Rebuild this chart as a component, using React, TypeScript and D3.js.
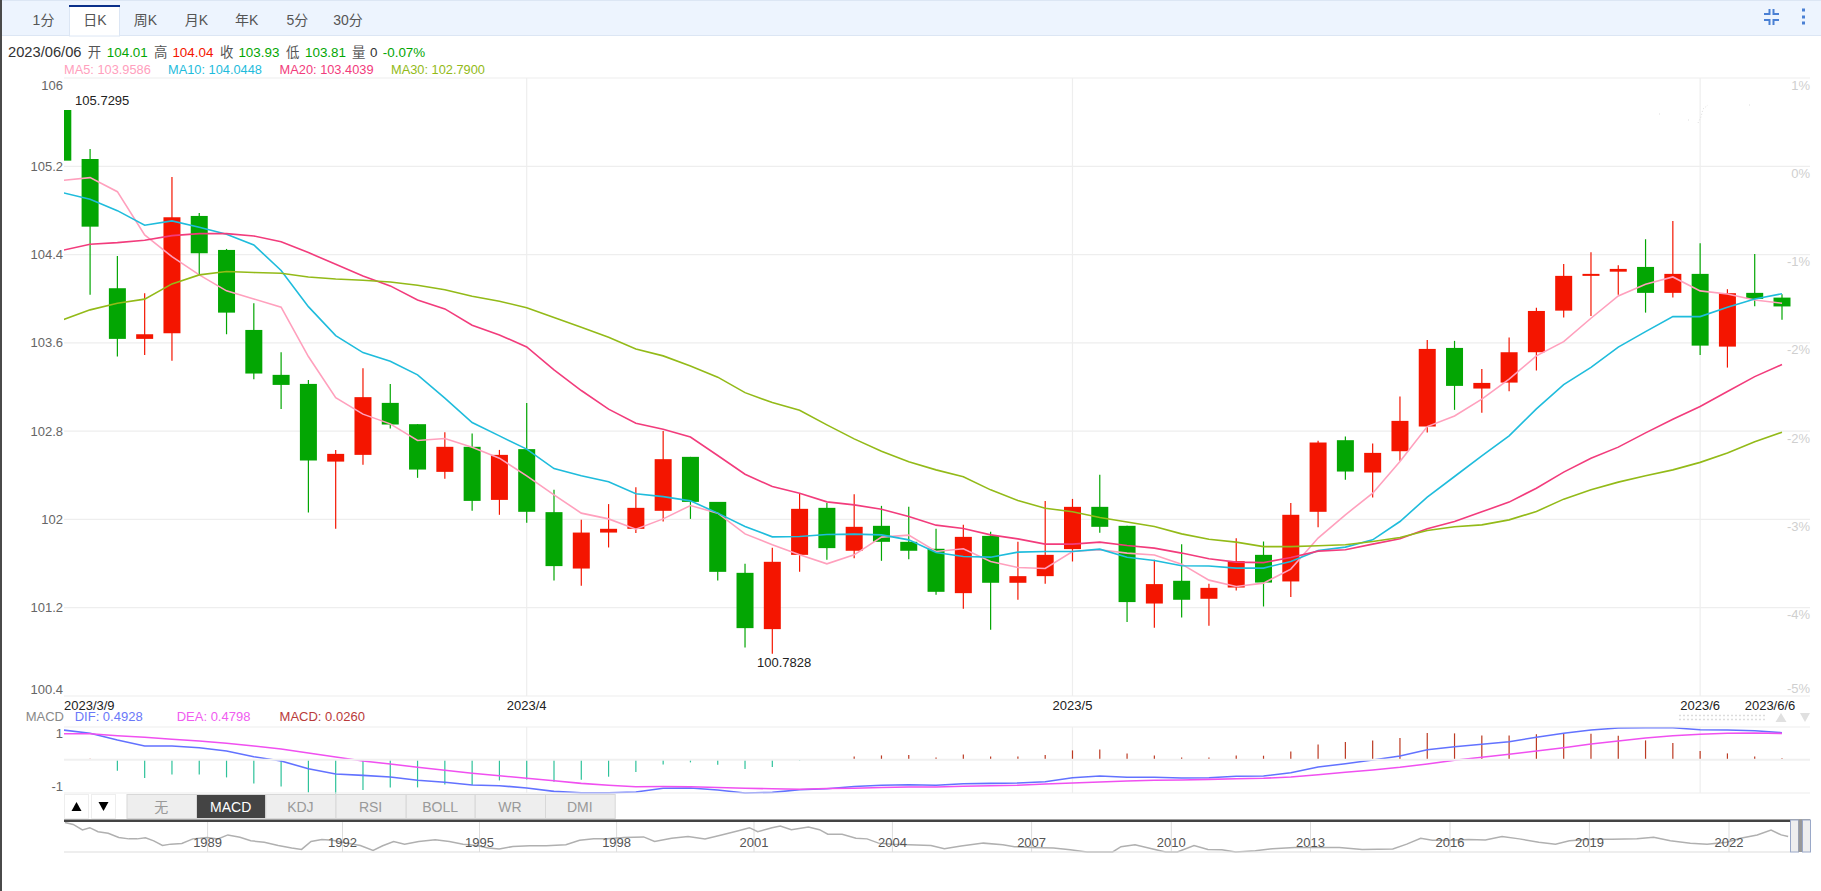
import React, { useEffect, useRef } from 'react';
import * as d3 from 'd3';

const opens = [105.71,105.266,104.095,103.636,103.687,104.75,104.442,103.717,103.31,103.228,102.524,102.585,103.056,102.863,102.431,102.658,102.177,102.637,102.066,101.555,101.881,101.915,102.078,102.567,102.159,101.516,101.006,101.679,102.105,101.716,101.942,101.797,101.734,101.332,101.851,101.426,101.486,101.731,102.114,101.942,101.238,101.444,101.281,101.383,101.679,101.438,102.069,102.718,102.425,102.618,102.842,103.554,103.186,103.24,103.515,103.892,104.207,104.245,104.288,104.053,104.225,103.566,104.053,104.01];
const closes = [105.251,104.653,103.636,103.678,104.738,104.412,103.874,103.322,103.219,102.534,102.594,103.108,102.86,102.452,102.658,102.168,102.585,102.069,101.577,101.881,101.915,102.105,102.546,102.159,101.525,101.015,101.616,102.096,101.74,101.933,101.797,101.716,101.344,101.842,101.426,101.486,101.679,102.114,101.933,101.251,101.414,101.272,101.38,101.622,101.428,102.042,102.697,102.434,102.603,102.893,103.545,103.21,103.237,103.515,103.889,104.207,104.225,104.27,104.053,104.225,103.575,104.05,103.998,103.93];
const highs = [105.7295,105.357,104.388,104.05,105.103,104.777,104.451,103.959,103.515,103.264,102.63,103.37,103.228,102.863,102.791,102.778,102.63,103.056,102.268,101.996,102.139,102.292,102.802,102.567,102.159,101.598,101.743,102.238,102.148,102.229,102.123,102.114,101.915,101.951,101.888,101.797,102.168,102.186,102.404,101.942,101.634,101.776,101.417,101.83,101.8,102.148,102.712,102.751,102.687,103.113,103.627,103.618,103.364,103.648,103.917,104.315,104.421,104.304,104.539,104.705,104.503,104.086,104.406,104.04];
const lows = [105.25,104.037,103.476,103.491,103.437,104.225,103.678,103.271,103,102.063,101.915,102.495,102.823,102.377,102.368,102.078,102.042,101.969,101.447,101.399,101.746,101.876,101.981,102.005,101.447,100.84,100.7828,101.525,101.634,101.649,101.625,101.64,101.317,101.19,101,101.272,101.417,101.619,101.879,101.07,101.018,101.111,101.036,101.356,101.211,101.296,101.93,102.359,102.198,102.531,102.787,102.993,102.966,103.162,103.349,103.829,103.844,104.037,103.874,104.01,103.491,103.376,103.932,103.81];

const ma5 = [105.073,105.097,104.97,104.578,104.381,104.216,104.071,103.998,103.923,103.476,103.104,102.954,102.866,102.715,102.733,102.655,102.555,102.395,102.223,102.057,102.005,101.912,102.005,102.126,102.057,101.869,101.77,101.679,101.598,101.679,101.84,101.858,101.709,101.734,101.619,101.564,101.555,101.709,101.725,101.695,101.677,101.595,101.45,101.392,101.423,101.55,101.831,102.042,102.238,102.525,102.841,102.938,103.09,103.271,103.482,103.611,103.823,104.025,104.131,104.197,104.071,104.043,103.989,103.9586];
const ma10 = [104.961,104.901,104.798,104.666,104.705,104.648,104.584,104.487,104.256,103.928,103.666,103.512,103.434,103.31,103.099,102.878,102.757,102.637,102.461,102.395,102.341,102.232,102.207,102.168,102.057,101.936,101.842,101.845,101.863,101.867,101.86,101.815,101.7,101.664,101.658,101.704,101.709,101.709,101.731,101.658,101.628,101.58,101.578,101.559,101.559,101.619,101.718,101.749,101.815,101.981,102.202,102.389,102.576,102.757,103.002,103.222,103.378,103.561,103.702,103.838,103.838,103.923,103.998,104.0448];
const ma20 = [104.439,104.494,104.508,104.53,104.572,104.59,104.59,104.569,104.517,104.418,104.312,104.206,104.116,103.989,103.908,103.76,103.672,103.563,103.355,103.168,102.999,102.872,102.818,102.746,102.579,102.41,102.298,102.238,102.159,102.132,102.093,102.026,101.948,101.918,101.86,101.824,101.776,101.776,101.794,101.764,101.74,101.695,101.643,101.613,101.609,101.655,101.713,101.725,101.776,101.824,101.915,101.981,102.069,102.157,102.283,102.429,102.555,102.655,102.784,102.908,103.023,103.159,103.294,103.4039];
const ma30 = [103.808,103.899,103.959,103.996,104.134,104.216,104.246,104.237,104.231,104.197,104.179,104.167,104.152,104.122,104.082,104.023,103.977,103.919,103.829,103.742,103.651,103.545,103.482,103.391,103.289,103.149,103.059,102.99,102.857,102.73,102.618,102.522,102.449,102.386,102.268,102.171,102.102,102.069,102.017,101.976,101.936,101.869,101.821,101.794,101.754,101.754,101.761,101.77,101.8,101.836,101.899,101.933,101.951,101.996,102.072,102.184,102.268,102.338,102.395,102.449,102.517,102.603,102.703,102.79];

const dif = [0.542,0.482,0.359,0.25,0.25,0.219,0.159,0.055,-0.024,-0.164,-0.261,-0.285,-0.316,-0.376,-0.412,-0.462,-0.474,-0.516,-0.577,-0.602,-0.602,-0.589,-0.522,-0.516,-0.553,-0.608,-0.595,-0.547,-0.529,-0.489,-0.467,-0.456,-0.467,-0.438,-0.431,-0.425,-0.401,-0.328,-0.297,-0.321,-0.321,-0.334,-0.328,-0.303,-0.297,-0.237,-0.133,-0.073,-0.005,0.068,0.182,0.237,0.281,0.328,0.409,0.482,0.542,0.578,0.584,0.584,0.547,0.542,0.529,0.4928];
const dea = [0.474,0.474,0.438,0.409,0.372,0.341,0.299,0.25,0.195,0.122,0.049,-0.024,-0.078,-0.139,-0.193,-0.248,-0.292,-0.339,-0.383,-0.431,-0.467,-0.493,-0.489,-0.493,-0.507,-0.522,-0.529,-0.538,-0.526,-0.52,-0.507,-0.498,-0.498,-0.485,-0.474,-0.467,-0.443,-0.425,-0.407,-0.389,-0.376,-0.37,-0.358,-0.347,-0.339,-0.316,-0.274,-0.23,-0.188,-0.139,-0.078,-0.011,0.044,0.099,0.159,0.219,0.286,0.341,0.396,0.438,0.463,0.482,0.487,0.4798];
const macdHist = [0,0.018,-0.201,-0.334,-0.268,-0.268,-0.323,-0.432,-0.487,-0.597,-0.62,-0.553,-0.505,-0.505,-0.451,-0.462,-0.378,-0.359,-0.401,-0.365,-0.31,-0.224,-0.086,-0.049,-0.091,-0.17,-0.133,-0.018,-0.007,0.06,0.078,0.086,0.042,0.097,0.06,0.06,0.086,0.17,0.188,0.115,0.078,0.042,0.042,0.078,0.073,0.151,0.279,0.323,0.352,0.396,0.487,0.48,0.443,0.443,0.462,0.474,0.474,0.438,0.352,0.305,0.159,0.115,0.06,0.026];

const navYears = [1985.9,1986.08,1986.28,1986.44,1986.62,1986.84,1987.07,1987.29,1987.47,1987.65,1987.83,1988.02,1988.2,1988.44,1988.68,1988.99,1989.23,1989.45,1989.72,1989.96,1990.26,1990.57,1990.87,1991.09,1991.3,1991.54,1991.78,1992.09,1992.39,1992.67,1992.88,1993.12,1993.36,1993.67,1994.03,1994.34,1994.64,1994.94,1995.19,1995.43,1995.73,1996.1,1996.46,1996.89,1997.19,1997.5,1997.8,1998.17,1998.59,1998.83,1999.2,1999.56,1999.93,2000.29,2000.66,2000.9,2001.08,2001.39,2001.57,2001.81,2002.18,2002.42,2002.6,2002.91,2003.21,2003.45,2003.7,2004,2004.36,2004.83,2005.12,2005.48,2005.96,2006.38,2006.63,2007,2007.47,2007.83,2008.19,2008.74,2008.92,2009.22,2009.58,2009.88,2010.13,2010.49,2010.79,2011.09,2011.39,2011.81,2012.18,2012.66,2013.14,2013.62,2014.11,2014.77,2015.07,2015.37,2015.62,2015.98,2016.4,2016.76,2017.12,2017.49,2017.91,2018.27,2018.57,2019,2019.48,2020.02,2020.38,2020.74,2021.17,2021.53,2021.95,2022.25,2022.61,2022.91,2023.13,2023.28];
const navValues = [126.8,123.4,114,117.9,111.2,108.4,101.2,99,99,100.7,95.7,87.9,90.1,91.2,99,101.2,99,105.7,101.8,95.7,93.4,87.9,83.4,81.2,94.6,97.9,96.8,91.8,87.9,79.6,87.3,94.6,90.1,94.6,97.3,94.6,90.1,87.9,83.4,81.8,86.2,87.3,87.3,89,96.8,99,99,101.2,102.3,94.6,100.1,102.9,99,105.7,112.9,117.9,111.2,117.9,120.7,114.6,119,114.6,106.8,106.8,100.1,99,91.8,90.1,89,87.9,82.3,86.8,91.8,89,85.7,84.6,83.4,80.7,76.8,76.8,85.7,89,82.3,76.8,76.8,87.9,81.2,80.7,76.8,79,82.3,84.6,84.6,84.6,81.2,81.8,90.1,100.1,96.8,96.8,97.9,97.3,102.9,99,93.4,90.1,95.7,98.4,98.4,99,101.8,95.7,91.8,90.1,93.4,100.1,105.7,114,105.7,102.9];

const priceTicks = [106, 105.2, 104.4, 103.6, 102.8, 102, 101.2, 100.4];
const priceTickLabels = ['106', '105.2', '104.4', '103.6', '102.8', '102', '101.2', '100.4'];
const pctLabels = ['1%', '0%', '-1%', '-2%', '-2%', '-3%', '-4%', '-5%'];
const monthIndex = [17, 37, 60];
const monthLabels = ['2023/4', '2023/5', '2023/6'];
const navTickYears = [1989, 1992, 1995, 1998, 2001, 2004, 2007, 2010, 2013, 2016, 2019, 2022];
// the navigator axis runs on trading days, so years are not evenly spaced
const navTickX = [207.6, 342.5, 479.5, 616.6, 754, 892.4, 1031.6, 1171.3, 1310.5, 1450, 1589.4, 1729];
const tabs = ['1分', '日K', '周K', '月K', '年K', '5分', '30分'];
const tabX = [43.5, 95, 145.5, 196.5, 246.7, 297.4, 348];
const indicators = ['无', 'MACD', 'KDJ', 'RSI', 'BOLL', 'WR', 'DMI'];
const indicatorEdges = [126.5, 196, 265.3, 335.5, 405.7, 474.7, 545, 614.7];

const RED = '#f41500';
const GREEN = '#03a603';
const MA_COLORS = ['#ffa0bd', '#1fbcdc', '#f23c7c', '#93ba18'];
const FONT = '"Liberation Sans", "Noto Sans CJK SC", sans-serif';

const App: React.FC = () => {
  const ref = useRef<SVGSVGElement>(null);

  useEffect(() => {
    const svg = d3.select(ref.current);
    svg.selectAll('*').remove();
    svg.style('font-family', FONT);

    const txt = (x: number, y: number, s: string, fill: string, size = 13, anchor = 'start') =>
      svg
        .append('text')
        .attr('x', x)
        .attr('y', y)
        .attr('dominant-baseline', 'central')
        .attr('text-anchor', anchor)
        .attr('font-size', size)
        .attr('fill', fill)
        .text(s);
    const rect = (x: number, y: number, w: number, h: number, fill: string, stroke = 'none') =>
      svg
        .append('rect')
        .attr('x', x)
        .attr('y', y)
        .attr('width', w)
        .attr('height', h)
        .attr('fill', fill)
        .attr('stroke', stroke);
    const hline = (x1: number, x2: number, y: number, color: string, w = 1) =>
      svg.append('line').attr('x1', x1).attr('x2', x2).attr('y1', y).attr('y2', y).attr('stroke', color).attr('stroke-width', w);
    const vline = (x: number, y1: number, y2: number, color: string, w = 1) =>
      svg.append('line').attr('x1', x).attr('x2', x).attr('y1', y1).attr('y2', y2).attr('stroke', color).attr('stroke-width', w);

    const plotLeft = 64;
    const plotRight = 1810;
    const x = d3.scaleLinear().domain([0, 63]).range([62.8, 1782]);
    const y = d3.scaleLinear().domain([100.4, 106]).range([696, 78]);
    const yMacd = d3.scaleLinear().domain([-0.6, 0.6]).range([792.6, 726.8]);
    const xNav = d3
      .scaleLinear()
      .domain([1985.88, ...navTickYears, 2023.32])
      .range([64, ...navTickX, 1790]);
    const yNav = d3.scaleLinear().domain([76.8, 114]).range([852, 830]);

    svg.append('defs').append('clipPath').attr('id', 'plot').append('rect').attr('x', plotLeft).attr('y', 70).attr('width', plotRight - plotLeft).attr('height', 730);

    // page frame and top tabs
    rect(0, 0, 1821, 891, '#fff');
    rect(0, 1, 1821, 34, '#edf4fe');
    hline(0, 1821, 0.5, '#dce6f4');
    hline(0, 1821, 35.5, '#dce6f4');
    rect(0, 0, 2, 891, '#4a4a4a');
    rect(69.5, 6, 50, 30, '#fff', '#dce6f4');
    rect(69, 5, 51, 2, '#0a2f8a');
    tabs.forEach((t, i) => txt(tabX[i], 20, t, '#555', 14, 'middle'));

    // collapse icon and menu dots
    const icon = svg.append('g').attr('fill', 'none').attr('stroke', '#4a80d4').attr('stroke-width', 2);
    icon.append('path').attr('d', 'M1764 14h5.5v-5M1779 14h-5.5v-5M1764 20h5.5v5M1779 20h-5.5v5');
    [10, 17, 23].forEach((cy) => rect(1802, cy - 1.5, 3, 3, '#4a80d4'));

    // quote line
    txt(8, 52, '2023/06/06', '#333', 14.7);
    const quote: [number, string, string][] = [
      [87.8, '开', '#555'], [106.8, '104.01', GREEN], [154, '高', '#555'], [172.4, '104.04', RED],
      [220, '收', '#555'], [238.4, '103.93', GREEN], [286, '低', '#555'], [305, '103.81', GREEN], [352, '量', '#555'], [370, '0', '#333'], [382.8, '-0.07%', GREEN],
    ];
    quote.forEach(([qx, s, c]) => txt(qx, 52, s, c, 13.4));
    const maLegend: [number, string][] = [[64, 'MA5: 103.9586'], [168, 'MA10: 104.0448'], [279.6, 'MA20: 103.4039'], [391, 'MA30: 102.7900']];
    maLegend.forEach(([lx, s], i) => txt(lx, 69, s, MA_COLORS[i], 12.8));

    // grid
    priceTicks.forEach((t) => hline(plotLeft, plotRight, y(t), '#eeeeee', 1.2));
    monthIndex.forEach((m) => {
      vline(x(m), 78, 696, '#eeeeee', 1.2);
      vline(x(m), 727, 793, '#eeeeee', 1.2);
    });
    priceTickLabels.forEach((s, i) => {
      const dy = i === 0 ? 7 : i === priceTicks.length - 1 ? -7 : 0;
      txt(63, y(priceTicks[i]) + dy, s, '#666', 13, 'end');
    });
    pctLabels.forEach((s, i) => {
      const dy = i === pctLabels.length - 1 ? -8 : 7;
      txt(plotRight, y(priceTicks[i]) + dy, s, '#cfcfcf', 13, 'end');
    });

    // faint leftovers above the last candles
    svg.append('path').attr('d', 'M1659 114h1M1688 120h1M1698 123l3 -6l2 -8l5 -4M1749 105h1').attr('fill', 'none').attr('stroke', '#dddddd').attr('stroke-dasharray', '1 2');

    // candles
    const plot = svg.append('g').attr('clip-path', 'url(#plot)');
    const idx = d3.range(opens.length);
    const bodyW = 17;
    const color = (i: number) => (closes[i] < opens[i] ? GREEN : RED);
    plot
      .selectAll('.wick')
      .data(idx)
      .enter()
      .append('line')
      .attr('class', 'wick')
      .attr('x1', (i) => x(i))
      .attr('x2', (i) => x(i))
      .attr('y1', (i) => y(highs[i]))
      .attr('y2', (i) => y(lows[i]))
      .attr('stroke', color)
      .attr('stroke-width', 1.2);
    plot
      .selectAll('.body')
      .data(idx)
      .enter()
      .append('rect')
      .attr('class', 'body')
      .attr('x', (i) => x(i) - bodyW / 2)
      .attr('width', bodyW)
      .attr('y', (i) => y(Math.max(opens[i], closes[i])))
      .attr('height', (i) => Math.max(1.5, Math.abs(y(opens[i]) - y(closes[i]))))
      .attr('fill', color);

    // moving averages
    const line = d3.line<number>().x((_, i) => x(i)).y((d) => y(d));
    [ma5, ma10, ma20, ma30].forEach((s, i) => {
      plot.append('path').attr('d', line(s)).attr('fill', 'none').attr('stroke', MA_COLORS[i]).attr('stroke-width', 1.6);
    });

    txt(75.1, 100, '105.7295', '#222', 13);
    txt(757, 662.3, '100.7828', '#222', 13);

    // date labels
    txt(64, 705.7, '2023/3/9', '#222', 13);
    monthLabels.forEach((s, i) => txt(x(monthIndex[i]), 705.7, s, '#222', 13, 'middle'));
    txt(1770, 705.7, '2023/6/6', '#222', 13, 'middle');

    // MACD panel
    txt(64, 716.7, 'MACD', '#888', 13, 'end');
    txt(74.7, 716.7, 'DIF: 0.4928', '#6a78f8', 13);
    txt(176.7, 716.7, 'DEA: 0.4798', '#f05cf0', 13);
    txt(279.6, 716.7, 'MACD: 0.0260', '#b93a3a', 13);
    txt(63, 733, '1', '#666', 13, 'end');
    txt(63, 786.7, '-1', '#666', 13, 'end');
    hline(plotLeft, plotRight, 727, '#eeeeee', 1.2);
    hline(plotLeft, plotRight, yMacd(0), '#f0f0f0', 2);
    hline(plotLeft, plotRight, 793, '#eeeeee', 1.2);
    plot
      .selectAll('.hist')
      .data(idx)
      .enter()
      .append('line')
      .attr('class', 'hist')
      .attr('x1', (i) => x(i))
      .attr('x2', (i) => x(i))
      .attr('y1', yMacd(0))
      .attr('y2', (i) => yMacd(macdHist[i]))
      .attr('stroke', (i) => (macdHist[i] < 0 ? '#2ec29a' : '#bc3a22'))
      .attr('stroke-width', 1.2);
    const macdLine = d3.line<number>().x((_, i) => x(i)).y((d) => yMacd(d));
    plot.append('path').attr('d', macdLine(dif)).attr('fill', 'none').attr('stroke', '#6272ff').attr('stroke-width', 1.6);
    plot.append('path').attr('d', macdLine(dea)).attr('fill', 'none').attr('stroke', '#f050f0').attr('stroke-width', 1.6);

    // small controls above the MACD panel
    svg.append('line').attr('x1', 1679).attr('x2', 1766).attr('y1', 715.5).attr('y2', 715.5).attr('stroke', '#ddd').attr('stroke-width', 1.5).attr('stroke-dasharray', '2 2');
    svg.append('line').attr('x1', 1679).attr('x2', 1766).attr('y1', 719.5).attr('y2', 719.5).attr('stroke', '#ddd').attr('stroke-width', 1.5).attr('stroke-dasharray', '2 2');
    svg.append('path').attr('d', 'M1781 713l5.5 9h-11z').attr('fill', '#e0e0e0');
    svg.append('path').attr('d', 'M1805 722l-5 -9h10z').attr('fill', '#e0e0e0');

    // indicator buttons
    rect(64.5, 794.5, 24, 24, '#fff', '#eeeeee');
    rect(91.5, 794.5, 24, 24, '#fff', '#eeeeee');
    svg.append('path').attr('d', 'M76.5 802l5 9h-10z').attr('fill', '#000');
    svg.append('path').attr('d', 'M103.5 811l-5 -9h10z').attr('fill', '#000');
    indicators.forEach((s, i) => {
      const a = indicatorEdges[i];
      const b = indicatorEdges[i + 1];
      const on = s === 'MACD';
      rect(a + 0.5, 794.5, b - a, 24, on ? '#444' : '#eeeeee', '#d8d8d8');
      txt((a + b) / 2, 807, s, on ? '#fff' : '#999', 14, 'middle');
    });

    // navigator
    navTickYears.forEach((yr) => vline(xNav(yr), 822, 852, '#dddddd'));
    const navLine = d3.line<number>().x((_, i) => xNav(navYears[i])).y((d) => yNav(d));
    svg.append('path').attr('d', navLine(navValues)).attr('fill', 'none').attr('stroke', '#b0b0b0').attr('stroke-width', 1.5);
    hline(plotLeft, 1790, 852, '#dddddd', 1.2);
    navTickYears.forEach((yr) => txt(xNav(yr), 842.3, String(yr), '#555', 13, 'middle'));
    rect(plotLeft, 819.5, plotRight - plotLeft, 2.5, '#444');
    rect(1790.5, 820, 8, 32, '#eeeeee', '#9aa8c8');
    rect(1798.5, 820, 4, 32, '#999999');
    rect(1802.5, 820, 8, 32, '#eeeeee', '#9aa8c8');
  }, []);

  return <svg ref={ref} width={1821} height={891} style={{ position: 'absolute', left: 0, top: 0, display: 'block' }} />;
};

export default App;
